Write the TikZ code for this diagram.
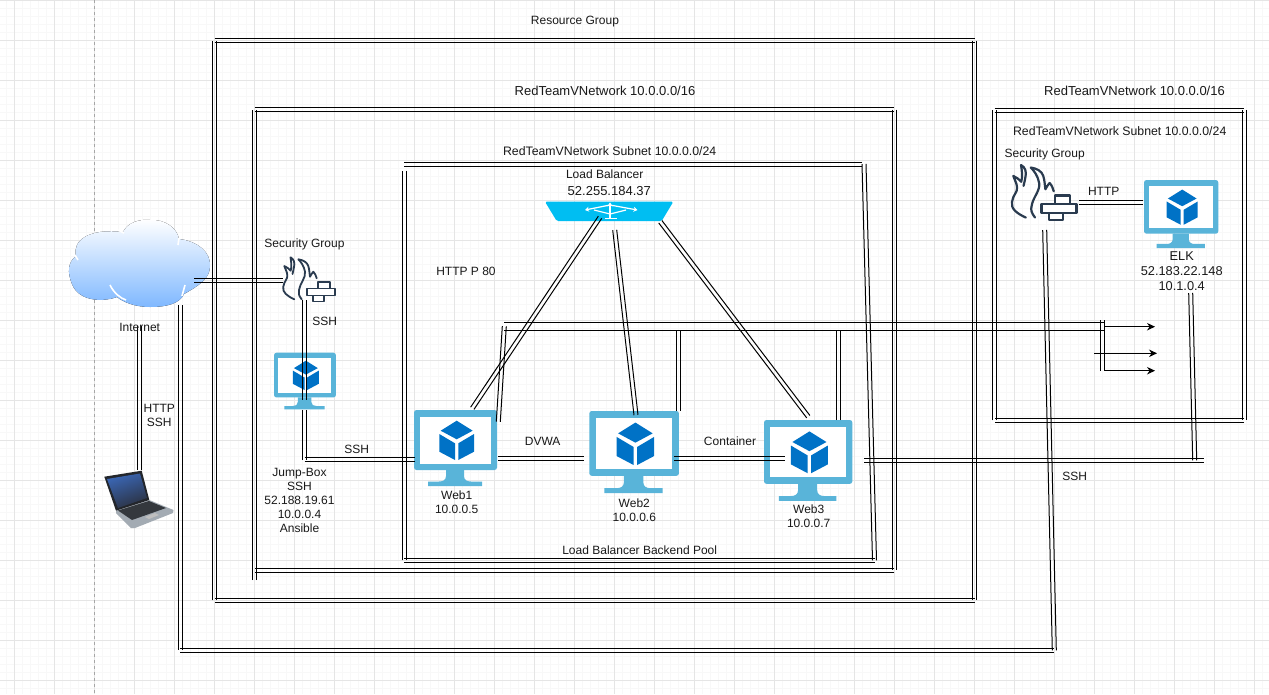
\documentclass[tikz,border=0pt]{standalone}
\usepackage{fontspec}
\setmainfont{Liberation Sans}
\usetikzlibrary{calc}
\usetikzlibrary{arrows.meta}

\definecolor{gridmajor}{HTML}{E5E5E5}
\definecolor{gridminor}{HTML}{F8F8F8}
\definecolor{vmframe}{HTML}{59B4D9}
\definecolor{vmcube}{HTML}{0072C6}
\definecolor{fwdark}{HTML}{2A3B4F}
\definecolor{lbcyan}{HTML}{00BEF2}
\definecolor{cloudlow}{HTML}{7FB8FF}
\definecolor{lapbase}{HTML}{A3ABB3}
\definecolor{lapkeys}{HTML}{34383D}
\definecolor{lapframe}{HTML}{23262B}
\definecolor{lapblue}{HTML}{3A66B4}
\definecolor{lapdark}{HTML}{2B3140}

\tikzset{
  wire/.style={semithick,line width=1pt,to path={
    ($(\tikztostart)!#1!90:(\tikztotarget)$) -- ($(\tikztotarget)!#1!-90:(\tikztostart)$)
    ($(\tikztostart)!#1!-90:(\tikztotarget)$) -- ($(\tikztotarget)!#1!90:(\tikztostart)$)}},
  wire/.default=2pt,
  lbl/.style={align=center,inner sep=0pt,yshift=-.7pt,text=black!90,font=\fontsize{12}{14}\selectfont},
  lblbig/.style={lbl,font=\fontsize{13}{14}\selectfont},
  lblsub/.style={lbl,font=\fontsize{12.3}{14}\selectfont},
  pics/vmicon/.style={code={
    \fill[vmframe,rounded corners=2.5pt] (0,0) rectangle (83,60);
    \fill[white] (6,6.5) rectangle (76.7,54);
    \fill[vmframe] (32,60) -- (32,66) .. controls (32,70) and (29,71.5) .. (25,71.5) -- (14,71.5)
      -- (14,76) -- (68,76) -- (68,71.5) -- (57,71.5) .. controls (53,71.5) and (50,70) .. (50,66) -- (50,60) -- cycle;
    \fill[vmcube] (42.7,10.7) -- (58.7,20.7) -- (42.7,29.3) -- (26.7,20.7) -- cycle;
    \fill[vmcube] (25.3,24) -- (41,33.3) -- (41,50) -- (25.3,41.7) -- cycle;
    \fill[vmcube] (60,24) -- (44.3,33.3) -- (44.3,50) -- (60,41.7) -- cycle;
  }},
  pics/fwicon/.style={code={
    \draw[fwdark,line width=#1,line cap=round,line join=round]
      (24.3,49.3) .. controls (17,46) and (12,42) .. (13.3,36.7)
      .. controls (14,31) and (18,29) .. (17.3,25) .. controls (17,21) and (15,19) .. (14.3,16)
      .. controls (17,17) and (19,19) .. (20.7,20.7) .. controls (22,16) and (21,11) .. (20.5,7.3)
      .. controls (24,9) and (25,13) .. (24,17) .. controls (23.5,20) and (23,22) .. (22.5,24);
    \draw[fwdark,line width=#1,line cap=round,line join=round]
      (31.7,49.3) .. controls (29,46) and (28,43) .. (29,40)
      .. controls (30,33) and (36,28) .. (35,21.7) .. controls (34,16) and (31,12) .. (28.3,9.3)
      .. controls (33,10) and (37,12) .. (38.3,16) .. controls (39.5,20) and (39.5,24) .. (40,26.7)
      .. controls (41,25) and (42,23) .. (43.3,21.7) .. controls (45,23) and (46,26) .. (46.7,28.3);
    \draw[fwdark,line width=#1,line join=round,fill=white]
      (47.6,31.6) rectangle (59.8,38.4) (36.9,38.4) rectangle (64.8,45.4) (42.6,45.4) rectangle (54,51.4);
  }},
}

\begin{document}
\begin{tikzpicture}[x=1pt,y=-1pt]
\useasboundingbox (0,0) rectangle (1269,694);
\fill[white] (0,0) rectangle (1269,694);

% grid of the drawing canvas
\foreach \gx in {0,...,157} \draw[gridminor,line width=.8pt] ({6.5+8*\gx},0) -- ({6.5+8*\gx},694);
\foreach \gy in {0,...,86} \draw[gridminor,line width=.8pt] (0,{8*\gy}) -- (1269,{8*\gy});
\foreach \gx in {0,...,31} \draw[gridmajor,line width=1pt] ({14.5+40*\gx},0) -- ({14.5+40*\gx},694);
\foreach \gy in {0,...,17} \draw[gridmajor,line width=1pt] (0,{40*\gy}) -- (1269,{40*\gy});
\draw[black!35,dashed,line width=.8pt] (94.5,0) -- (94.5,694);

% cloud
\coordinate (cloud) at (139.5,263);
\fill[top color=white,bottom color=cloudlow]
  (76,256) .. controls (72,240) and (90,228) .. (123,232)
  .. controls (128,222) and (140,219) .. (150,220) .. controls (165,219) and (177,228) .. (179,239)
  .. controls (197,241) and (211,252) .. (210,266) .. controls (210,278) and (200,285) .. (184,294)
  .. controls (180,303) and (168,307) .. (150,307) .. controls (135,307) and (123,302) .. (117,297)
  .. controls (100,303) and (78,300) .. (72,284) .. controls (67,272) and (68,262) .. (76,256) -- cycle;
\draw[white,line width=1.6pt] (110,285) .. controls (114,293) and (120,298) .. (126,300);
\draw[white,line width=1.6pt] (185,285) -- (182,296);
\draw[white,line width=1.6pt] (118,230) -- (124,233);
\draw[white,line width=1.6pt] (178,245) -- (179,238);
\draw[white,line width=1.6pt] (75,255) -- (78,260);

% laptop
\coordinate (laptop) at (139,500);
\fill[lapbase] (116,510.7) -- (149.3,500) -- (173.5,510) -- (173,513) -- (135,528) -- (131,528) -- (116,513) -- cycle;
\fill[lapkeys] (118,510.5) -- (149,501) -- (166,508) -- (132,520) -- cycle;
\fill[black!25] (145,517) -- (155,513) -- (159,515) -- (149,519) -- cycle;
\fill[lapframe] (104.3,476.7) -- (141.7,470.7) -- (149.3,500) -- (116,510.7) -- cycle;
\shade[left color=lapblue,right color=lapdark,shading angle=20]
  (107,479) -- (140,473.5) -- (147,498) -- (118,508) -- cycle;

% vm and firewall icons
\pic (web1) at (414,410) {vmicon};
\pic[scale=1.08] (web2) at (589.3,411) {vmicon};
\pic[scale=1.064] (web3) at (764,420) {vmicon};
\pic[scale=.746] (jump) at (274,352.7) {vmicon};
\pic[scale=.895] (elk) at (1144,180) {vmicon};
\pic (fw1) at (270,250) {fwicon=1.8pt};
\pic[scale=1.25] (fw2) at (995.4,155.9) {fwicon=2.2pt};

% load balancer
\coordinate (lb) at (609.5,211);
\fill[lbcyan,rounded corners=1.5pt] (545,201.7) -- (673.3,201.7) -- (661.7,221) -- (556.7,221) -- cycle;
\draw[white,line width=1.3pt,-{Stealth[length=4pt,width=5pt]}] (610,206) -- (610,202.4);
\draw[white,line width=1.3pt] (610,206) -- (610,218);
\draw[white,line width=1.6pt] (605,218.5) -- (616.7,218.5);
\draw[white,line width=1.2pt,-{Stealth[length=4pt,width=5pt]}] (610,205) -- (585,210);
\draw[white,line width=1.2pt,-{Stealth[length=4pt,width=5pt]}] (610,205) -- (637.5,210);
\draw[white,line width=1.2pt] (594,210) -- (610,214) -- (626,210);

% group boxes
\coordinate (rgNW) at (214.7,40.5);
\coordinate (rgNE) at (974.5,40.5);
\coordinate (rgSE) at (974.5,600.3);
\coordinate (rgSW) at (214.7,600.3);
\coordinate (vnNW) at (254.7,109.5);
\coordinate (vnNE) at (894.3,109.5);
\coordinate (vnSE) at (894.3,570.3);
\coordinate (vnSW) at (254.7,570.3);
\coordinate (vnSWend) at (254.7,580);
\coordinate (snNW) at (404.3,164);
\coordinate (snNWend) at (404.3,171);
\coordinate (snNE) at (861.5,164);
\coordinate (snNEslant) at (864,164);
\coordinate (snSE) at (874.5,560.3);
\coordinate (snSW) at (404.3,560.3);
\coordinate (elNW) at (994.7,110.3);
\coordinate (elNE) at (1244,110.3);
\coordinate (elSE) at (1244,420.3);
\coordinate (elSW) at (994.7,420.3);

\path (rgNW)    edge[wire] (rgNE)
      (rgNE)    edge[wire] (rgSE)
      (rgSE)    edge[wire] (rgSW)
      (rgSW)    edge[wire] (rgNW)
      (vnNW)    edge[wire] (vnNE)
      (vnNE)    edge[wire] (vnSE)
      (vnSE)    edge[wire] (vnSW)
      (vnSWend) edge[wire] (vnNW)
      (snNW)    edge[wire] (snNE)
      (snNEslant) edge[wire] (snSE)
      (snSE)    edge[wire] (snSW)
      (snSW)    edge[wire] (snNWend)
      (elNW)    edge[wire] (elNE)
      (elNE)    edge[wire] (elSE)
      (elSE)    edge[wire] (elSW)
      (elSW)    edge[wire] (elNW);

% connector ends
\coordinate (cloudR) at (194.3,280.3);
\coordinate (cloudB) at (180.3,305);
\coordinate (cloudL) at (139,326);
\coordinate (fw1L) at (283,280.3);
\coordinate (fw1B) at (304.7,300);
\coordinate (jumpM) at (304.7,400);
\coordinate (jumpB) at (304.7,410);
\coordinate (jumpC) at (304.7,459.7);
\coordinate (web1L) at (414.5,459.7);
\coordinate (web1R) at (498,458);
\coordinate (web1T) at (472.3,408.3);
\coordinate (web1U) at (498.3,421.7);
\coordinate (web2L) at (584,458);
\coordinate (web2R) at (674.3,458);
\coordinate (web2T) at (636,415);
\coordinate (web2U) at (678.7,410.7);
\coordinate (web3L) at (785,458);
\coordinate (web3T) at (808.3,416.7);
\coordinate (web3U) at (838.7,420);
\coordinate (web3R) at (864.3,460.3);
\coordinate (lbA) at (600,217.3);
\coordinate (lbB) at (614.7,230);
\coordinate (lbC) at (660.3,221.7);
\coordinate (busW) at (504.3,326.3);
\coordinate (busE) at (1104,326.3);
\coordinate (busA) at (678.7,330.3);
\coordinate (busB) at (838.7,330.3);
\coordinate (forkT) at (1102.3,320);
\coordinate (forkB) at (1102.3,370.7);
\coordinate (elkB) at (1190.7,293);
\coordinate (elkD) at (1194.7,460.3);
\coordinate (sshE) at (1203.5,460.3);
\coordinate (fw2R) at (1079.3,202.5);
\coordinate (elkL) at (1142.7,202.5);
\coordinate (fw2B) at (1044.7,230);
\coordinate (backC) at (1054.3,650.3);
\coordinate (backW) at (180.3,650.3);
\coordinate (laptopT) at (139,470);
\coordinate (arrA) at (1104,326.7);
\coordinate (arrAe) at (1155,326.7);
\coordinate (arrB) at (1094.3,353.3);
\coordinate (arrBe) at (1157,353.3);
\coordinate (arrC) at (1104,370.7);
\coordinate (arrCe) at (1155,370.7);

\path (cloudR) edge[wire] (fw1L)
      (fw1B)   edge[wire] (jumpM)
      (jumpB)  edge[wire] (jumpC)
      (jumpC)  edge[wire] (web1L)
      (cloudL) edge[wire] (laptopT)
      (web1R)  edge[wire] (web2L)
      (web2R)  edge[wire] (web3L)
      (web3R)  edge[wire] (sshE)
      (elkB)   edge[wire] (elkD)
      (fw2R)   edge[wire] (elkL)
      (lbA)    edge[wire] (web1T)
      (lbB)    edge[wire] (web2T)
      (lbC)    edge[wire] (web3T)
      (web1U)  edge[wire] (busW)
      (busW)   edge[wire=4pt] (busE)
      (web2U)  edge[wire] (busA)
      (web3U)  edge[wire] (busB)
      (forkT)  edge[wire] (forkB)
      (cloudB) edge[wire] (backW)
      (backW)  edge[wire] (backC)
      (backC)  edge[wire] (fw2B);

% arrows at the end of the bus
\draw[line width=1pt,-{Stealth[length=8pt,width=7.5pt]}] (arrA) -- (arrAe);
\draw[line width=1pt,-{Stealth[length=8pt,width=7.5pt]}] (arrB) -- (arrBe);
\draw[line width=1pt,-{Stealth[length=8pt,width=7.5pt]}] (arrC) -- (arrCe);

% labels
\node[lbl] (rgtxt) at (575,20.5) {Resource Group};
\node[lblbig] (vntxt) at (605,90.5) {RedTeamVNetwork 10.0.0.0/16};
\node[lblbig] (vn2txt) at (1134.5,90) {RedTeamVNetwork 10.0.0.0/16};
\node[lblsub] (sntxt) at (609.7,150.7) {RedTeamVNetwork Subnet 10.0.0.0/24};
\node[lblsub] (sn2txt) at (1119.7,130.7) {RedTeamVNetwork Subnet 10.0.0.0/24};
\node[lbl] (lbtxt) at (604.7,173.3) {Load Balancer};
\node[lblbig] (lbip) at (609.3,190) {52.255.184.37};
\node[lbl] (p80) at (466,270.7) {HTTP P 80};
\node[lbl] (sg1) at (304.5,243.3) {Security Group};
\node[lbl] (sg2) at (1044.7,153.7) {Security Group};
\node[lbl] (nettxt) at (139.7,326.7) {Internet};
\node[lbl] (hstxt) at (159.3,414.5) {HTTP\\SSH};
\node[lbl] (ssh1) at (324.7,320.7) {SSH};
\node[lbl] (ssh2) at (356.7,448.7) {SSH};
\node[lbl] (ssh3) at (1074.7,475.7) {SSH};
\node[lbl] (jumptxt) at (299.5,499.7) {Jump-Box\\SSH\\52.188.19.61\\10.0.0.4\\Ansible};
\node[lbl] (dvwa) at (542.7,440.7) {DVWA};
\node[lbl] (cont) at (730,440.7) {Container};
\node[lbl] (web1txt) at (456.7,501.5) {Web1\\10.0.0.5};
\node[lbl] (web2txt) at (634.3,509.2) {Web2\\10.0.0.6};
\node[lbl] (web3txt) at (808.7,515.8) {Web3\\10.0.0.7};
\node[lbl] (pool) at (639.7,549.7) {Load Balancer Backend Pool};
\node[lbl] (http) at (1103.7,190.7) {HTTP};
\node[lbl,font=\fontsize{12.8}{15}\selectfont] (elktxt) at (1181.7,270.5) {ELK\\52.183.22.148\\10.1.0.4};
\end{tikzpicture}
\end{document}
